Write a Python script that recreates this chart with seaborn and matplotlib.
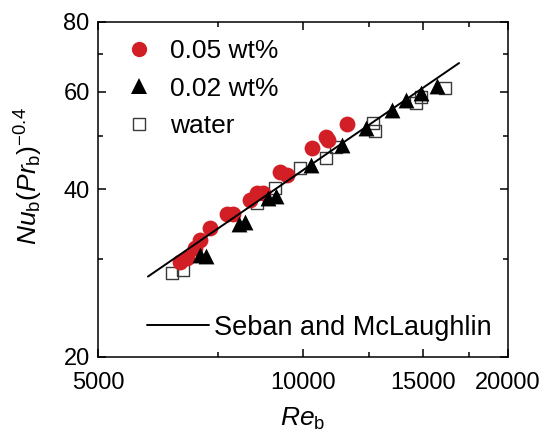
import matplotlib
matplotlib.use('Agg')
import matplotlib.pyplot as plt
import seaborn as sns
import pandas as pd
from matplotlib.lines import Line2D
from matplotlib.ticker import FixedLocator, FixedFormatter, NullFormatter

# ---- data ----
re_005 = [6600, 6760, 6940, 7060, 7300, 7730, 7890, 8360, 8560, 8740, 9250, 9480, 10310, 10810, 10890, 11600]
nu_005 = [29.6, 30.1, 31.4, 32.5, 34.1, 36.1, 36.1, 38.3, 39.4, 39.4, 43.0, 42.5, 47.5, 49.7, 49.1, 52.5]

re_002 = [7060, 7200, 8050, 8220, 8890, 9130, 10280, 11410, 12370, 13510, 14170, 14900, 15730]
nu_002 = [30.5, 30.4, 34.7, 35.0, 38.6, 38.9, 44.3, 48.1, 51.6, 55.6, 57.9, 59.6, 61.4]

re_water = [6420, 6670, 8560, 9100, 9900, 10810, 11180, 12670, 12750, 14660, 14900, 16170]
nu_water = [28.3, 28.7, 37.8, 40.3, 43.7, 45.6, 47.7, 52.7, 51.0, 57.2, 58.7, 60.9]

corr_re = [5920, 16950]
corr_nu = [27.9, 67.5]

series_labels = ["0.05 wt%", "0.02 wt%", "water"]
corr_label = "Seban and McLaughlin"

x_major = [5000, 10000, 15000, 20000]
x_major_labels = ["5000", "10000", "15000", "20000"]
x_minor = [7500, 12500, 17500]
y_major = [20, 40, 60, 80]
y_major_labels = ["20", "40", "60", "80"]
y_minor = [30, 50, 70]

# ---- style ----
sns.set_theme(style="ticks")
plt.rcParams['font.family'] = ['Liberation Sans', 'DejaVu Sans']
plt.rcParams['mathtext.fontset'] = 'custom'
plt.rcParams['mathtext.rm'] = 'Liberation Sans'
plt.rcParams['mathtext.it'] = 'Liberation Sans:italic'
plt.rcParams['mathtext.bf'] = 'Liberation Sans:bold'
plt.rcParams['text.color'] = 'black'
plt.rcParams['axes.labelcolor'] = 'black'
plt.rcParams['xtick.color'] = 'black'
plt.rcParams['ytick.color'] = 'black'

RED = '#d21f26'
SQ_EDGE = '#3a3a3a'

fig = plt.figure(figsize=(5.46, 4.38), dpi=100)
ax = fig.add_axes([98/546, 1 - 357/438, 410/546, 335/438])

df_w = pd.DataFrame({"Re": re_water, "Nu": nu_water})
df_5 = pd.DataFrame({"Re": re_005, "Nu": nu_005})
df_2 = pd.DataFrame({"Re": re_002, "Nu": nu_002})
df_c = pd.DataFrame({"Re": corr_re, "Nu": corr_nu})

sns.scatterplot(data=df_w, x="Re", y="Nu", marker='s', s=72, color=SQ_EDGE,
                linewidth=1.0, ax=ax, legend=False, zorder=2)
cw = ax.collections[-1]
cw.set_facecolor('none')
cw.set_edgecolor(SQ_EDGE)

sns.scatterplot(data=df_5, x="Re", y="Nu", marker='o', s=130, color=RED,
                linewidth=0, ax=ax, legend=False, zorder=3)
sns.scatterplot(data=df_2, x="Re", y="Nu", marker='^', s=130, color='black',
                linewidth=0, ax=ax, legend=False, zorder=4)
sns.lineplot(data=df_c, x="Re", y="Nu", color='black', lw=1.4, ax=ax,
             legend=False, zorder=5)

ax.set_xscale('log')
ax.set_yscale('log')
ax.set_xlim(5000, 20000)
ax.set_ylim(20, 80)

ax.xaxis.set_major_locator(FixedLocator(x_major))
ax.xaxis.set_major_formatter(FixedFormatter(x_major_labels))
ax.xaxis.set_minor_locator(FixedLocator(x_minor))
ax.xaxis.set_minor_formatter(NullFormatter())
ax.yaxis.set_major_locator(FixedLocator(y_major))
ax.yaxis.set_major_formatter(FixedFormatter(y_major_labels))
ax.yaxis.set_minor_locator(FixedLocator(y_minor))
ax.yaxis.set_minor_formatter(NullFormatter())

ax.tick_params(which='both', direction='in', top=True, right=True,
               labelsize=17, width=1.1, color='black', labelcolor='black')
ax.tick_params(which='major', length=6)
ax.tick_params(which='minor', length=3.5)
ax.tick_params(axis='x', which='major', pad=11)
ax.tick_params(axis='y', which='major', pad=6)
for sp in ax.spines.values():
    sp.set_linewidth(1.1)
    sp.set_color('black')

ax.set_xlabel(r'$\mathit{Re}_\mathrm{b}$', fontsize=19)
ax.set_ylabel(r'$\mathit{Nu}_\mathrm{b}(\mathit{Pr}_\mathrm{b})^{-0.4}$', fontsize=19)
ax.xaxis.set_label_coords(0.5, -0.145)
ax.yaxis.set_label_coords(-0.13, 0.54)

handles = [
    Line2D([], [], ls='none', marker='o', ms=11, mfc=RED, mec=RED, mew=0),
    Line2D([], [], ls='none', marker='^', ms=11, mfc='black', mec='black', mew=0),
    Line2D([], [], ls='none', marker='s', ms=8, mfc='none', mec=SQ_EDGE, mew=1.0),
]
leg1 = ax.legend(handles, series_labels, loc='upper left',
                 bbox_to_anchor=(0.068, 0.948), frameon=False, fontsize=19,
                 handlelength=1.0, handletextpad=0.67, labelspacing=0.5,
                 borderpad=0, borderaxespad=0)
ax.add_artist(leg1)
ax.legend([Line2D([], [], color='black', lw=1.4)], [corr_label], loc='lower right',
          bbox_to_anchor=(0.96, 0.048), frameon=False, fontsize=19.5,
          handlelength=2.3, handletextpad=0.18, borderpad=0, borderaxespad=0)

fig.savefig('out.png', dpi=100)
